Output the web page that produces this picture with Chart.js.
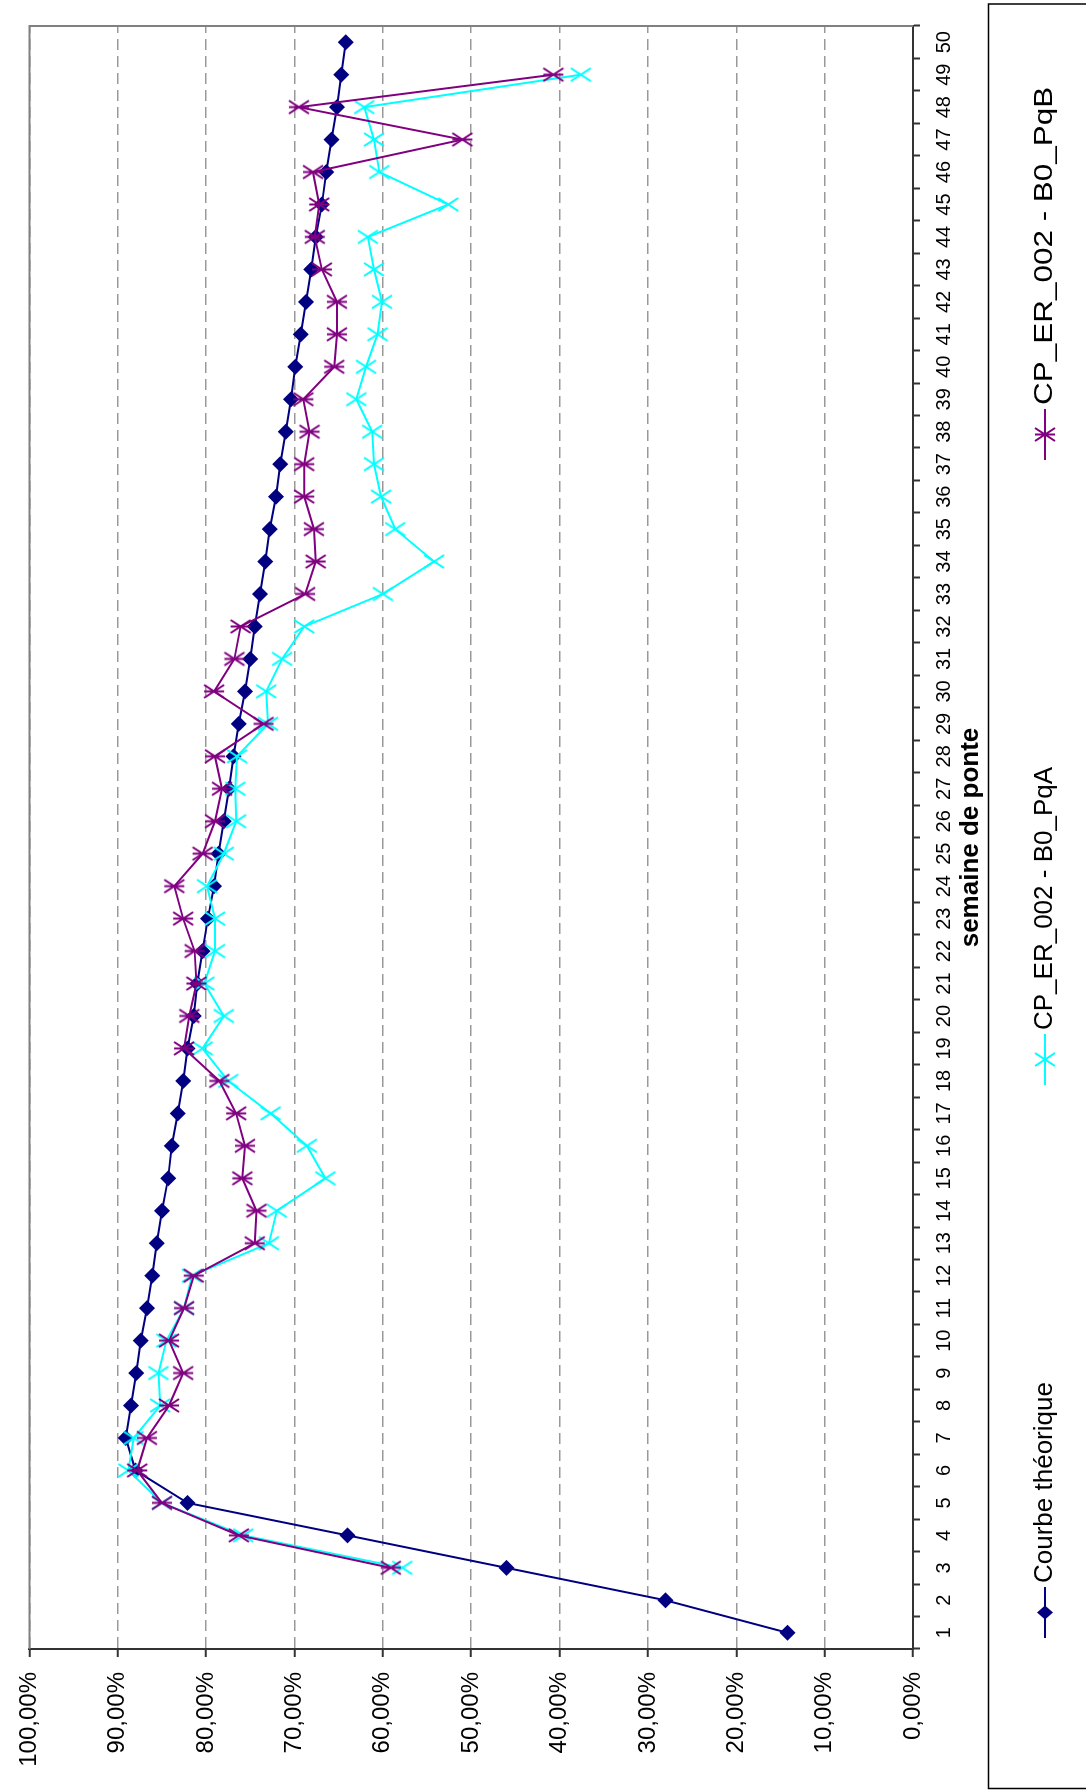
<!DOCTYPE html>
<html>
<head>
<meta charset="utf-8">
<script src="https://cdn.jsdelivr.net/npm/chart.js@4/dist/chart.umd.min.js"></script>
<style>
  html, body { margin: 0; padding: 0; width: 1086px; height: 1791px; overflow: hidden; background: #fff; }
  /* the chart is laid out landscape and turned a quarter turn counter-clockwise */
  #frame { position: absolute; left: 0; top: 0; width: 1791px; height: 1086px;
           transform-origin: 0 0; transform: translate(0px, 1791px) rotate(-90deg); }
  canvas { display: block; }
</style>
</head>
<body>
<div id="frame"><canvas id="c" width="1791" height="1086"></canvas></div>
<script>
const FONT = '"Liberation Sans", Arial, Helvetica, sans-serif';

const weeks = ['1','2','3','4','5','6','7','8','9','10','11','12','13','14','15','16','17','18','19','20',
  '21','22','23','24','25','26','27','28','29','30','31','32','33','34','35','36','37','38','39','40',
  '41','42','43','44','45','46','47','48','49','50'];

const valueTicks = ['0,00%','10,00%','20,00%','30,00%','40,00%','50,00%','60,00%','70,00%','80,00%','90,00%','100,00%'];

const seriesNames = ['Courbe théorique', 'CP_ER_002 - B0_PqA', 'CP_ER_002 - B0_PqB'];

const theorique = [14.2, 28.0, 46.0, 64.0, 82.1, 88.0, 89.1, 88.5, 87.9, 87.4,
  86.7, 86.1, 85.6, 85.0, 84.3, 83.9, 83.2, 82.6, 82.1, 81.4,
  81.0, 80.4, 79.8, 79.1, 78.6, 78.0, 77.4, 76.9, 76.3, 75.6,
  75.0, 74.5, 73.9, 73.3, 72.8, 72.1, 71.6, 71.0, 70.4, 69.9,
  69.3, 68.7, 68.1, 67.6, 66.9, 66.4, 65.8, 65.2, 64.7, 64.2];

const pqA = [null, null, 57.8, 75.8, 85.0, 88.8, 88.2, 85.2, 85.4, 84.5,
  82.5, 81.6, 72.9, 72.0, 66.5, 68.6, 72.7, 77.5, 80.4, 78.0,
  80.2, 79.0, 79.0, 79.9, 78.0, 76.6, 76.7, 76.5, 73.0, 73.2,
  71.4, 68.9, 60.0, 54.2, 58.6, 60.2, 61.0, 61.2, 63.0, 61.9,
  60.6, 60.1, 61.0, 61.7, 52.6, 60.4, 61.0, 62.1, 37.6, null];

const pqB = [null, null, 59.1, 76.3, 85.0, 87.8, 86.7, 84.2, 82.6, 84.2,
  82.5, 81.4, 74.5, 74.3, 75.9, 75.6, 76.6, 78.5, 82.5, 81.9,
  81.1, 81.3, 82.6, 83.6, 80.4, 79.0, 78.2, 79.0, 73.5, 79.1,
  76.8, 76.1, 68.8, 67.6, 67.8, 68.9, 68.9, 68.3, 69.0, 65.5,
  65.2, 65.2, 66.9, 67.7, 67.2, 67.9, 51.0, 69.5, 40.7, null];

const NAVY = '#000080', CYAN = '#00ffff', PURPLE = '#800080';

// marker sprites: an "x" and an "x" with a bar through it
function makeMarker(color, hw, hh, withBar) {
  const c = document.createElement('canvas');
  c.width = Math.ceil(2 * hw + 4);
  c.height = Math.ceil(2 * hh + 4);
  const g = c.getContext('2d');
  const mx = c.width / 2, my = c.height / 2;
  g.strokeStyle = color;
  g.lineWidth = 2;
  g.beginPath();
  g.moveTo(mx - hw, my - hh); g.lineTo(mx + hw, my + hh);
  g.moveTo(mx + hw, my - hh); g.lineTo(mx - hw, my + hh);
  if (withBar) { g.moveTo(mx, my - hh); g.lineTo(mx, my + hh); }
  g.stroke();
  return c;
}
const xMark = makeMarker(CYAN, 6.5, 10, false);
const starMark = makeMarker(PURPLE, 6.5, 10, true);

function diamond(ctx, x, y, rx, ry, color) {
  ctx.beginPath();
  ctx.moveTo(x, y - ry); ctx.lineTo(x + rx, y); ctx.lineTo(x, y + ry); ctx.lineTo(x - rx, y);
  ctx.closePath();
  ctx.fillStyle = color;
  ctx.fill();
}

// grey frame along the far sides of the plot area
const plotFrame = {
  id: 'plotFrame',
  beforeDatasetsDraw(chart) {
    const { ctx, chartArea: a } = chart;
    ctx.save();
    ctx.strokeStyle = '#808080';
    ctx.lineWidth = 2;
    ctx.beginPath();
    ctx.moveTo(a.left, a.top); ctx.lineTo(a.right, a.top); ctx.lineTo(a.right, a.bottom);
    ctx.stroke();
    ctx.restore();
  }
};

// boxed legend below the plot
const legendBox = {
  id: 'legendBox',
  afterDraw(chart) {
    const ctx = chart.ctx;
    ctx.save();
    ctx.strokeStyle = '#000';
    ctx.lineWidth = 1.5;
    ctx.strokeRect(2.5, 988.5, 1784.5, 120);
    const cy = 1045;
    const items = [
      { x0: 153, color: NAVY, marker: 'diamond', text: seriesNames[0], stretch: 1 },
      { x0: 706, color: CYAN, marker: xMark, text: seriesNames[1], stretch: 1 },
      { x0: 1331, color: PURPLE, marker: starMark, text: seriesNames[2], stretch: 1.21 }
    ];
    ctx.font = '26px ' + FONT;
    ctx.textBaseline = 'middle';
    ctx.textAlign = 'left';
    items.forEach(it => {
      ctx.strokeStyle = it.color;
      ctx.lineWidth = 2;
      ctx.beginPath(); ctx.moveTo(it.x0, cy); ctx.lineTo(it.x0 + 51, cy); ctx.stroke();
      const mx = it.x0 + 25.5;
      if (it.marker === 'diamond') diamond(ctx, mx, cy, 7, 8, it.color);
      else ctx.drawImage(it.marker, mx - it.marker.width / 2, cy - it.marker.height / 2);
      ctx.fillStyle = '#000';
      ctx.save();
      ctx.translate(it.x0 + 55, cy);
      ctx.scale(it.stretch, 1);
      ctx.fillText(it.text, 0, 0);
      ctx.restore();
    });
    ctx.restore();
  }
};

new Chart(document.getElementById('c'), {
  type: 'line',
  data: {
    labels: weeks,
    datasets: [
      { label: seriesNames[0], data: theorique, borderColor: NAVY, backgroundColor: NAVY,
        borderWidth: 2, pointStyle: 'rectRot', pointRadius: 8, pointBorderWidth: 0,
        pointBackgroundColor: NAVY, pointBorderColor: NAVY, order: 2 },
      { label: seriesNames[1], data: pqA, borderColor: CYAN, backgroundColor: CYAN,
        borderWidth: 2, pointStyle: xMark, order: 1 },
      { label: seriesNames[2], data: pqB, borderColor: PURPLE, backgroundColor: PURPLE,
        borderWidth: 2, pointStyle: starMark, order: 0 }
    ]
  },
  options: {
    responsive: false,
    animation: false,
    devicePixelRatio: 1,
    events: [],
    layout: { padding: { top: 19, right: 26, left: 0, bottom: 0 } },
    plugins: { legend: { display: false }, tooltip: { enabled: false } },
    elements: { line: { tension: 0 } },
    scales: {
      x: {
        type: 'category',
        offset: true,
        grid: { display: true, drawOnChartArea: false, drawTicks: true, tickLength: 7,
                offset: true, tickColor: '#333', tickWidth: 2 },
        border: { display: true, color: '#333', width: 2 },
        ticks: { font: { family: FONT, size: 20 }, color: '#000', padding: 12,
                 maxRotation: 0, minRotation: 0, autoSkip: false },
        title: { display: true, text: 'semaine de ponte', color: '#000',
                 font: { family: FONT, size: 26, weight: 'bold' }, padding: { top: 0, bottom: 100 } },
        afterFit(s) { s.height = 173; }
      },
      y: {
        min: 0, max: 100,
        ticks: { stepSize: 10, font: { family: FONT, size: 24 }, color: '#000', padding: 15,
                 callback: v => valueTicks[Math.round(v / 10)] },
        grid: { color: '#999', lineWidth: 1.5, tickLength: 8, tickColor: '#333', tickWidth: 2,
                tickBorderDash: [] },
        border: { display: true, color: '#333', width: 2, dash: [11, 6] },
        afterFit(s) { s.width = 142; }
      }
    }
  },
  plugins: [plotFrame, legendBox]
});
</script>
</body>
</html>
